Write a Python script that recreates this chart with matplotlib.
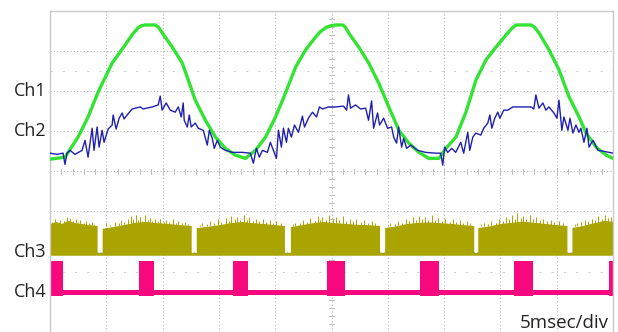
import numpy as np
import matplotlib.pyplot as plt

plt.rcParams['font.family'] = ['Open Sans', 'DejaVu Sans']

# ---------------------------------------------------------------------------
# Trace data: time in ms (5 ms/div, 10 div), level in screen divisions
# ---------------------------------------------------------------------------
ch1_t = [0.00, 1.33, 2.49, 3.38, 4.27, 5.52, 6.67, 7.30, 7.83, 8.10, 8.45, 9.34, 9.65,
         9.97, 10.86, 11.75, 12.28, 12.90, 13.80, 14.69, 15.58, 16.47, 17.36, 18.25,
         19.14, 20.03, 20.92, 21.81, 22.70, 23.59, 24.00, 24.48, 24.90, 25.37, 26.00,
         26.25, 26.53, 27.42, 28.31, 29.20, 30.09, 30.98, 31.87, 32.76, 33.65, 34.54,
         35.16, 36.05, 36.94, 37.83, 38.72, 39.61, 40.50, 41.00, 41.39, 42.72, 43.05,
         43.43, 44.32, 45.21, 46.10, 46.99, 47.61, 48.50, 49.40, 50.00]
ch1_v = [0.30, 0.35, 0.85, 1.35, 1.97, 2.69, 3.14, 3.40, 3.57, 3.62, 3.64, 3.64, 3.58,
         3.44, 3.09, 2.69, 2.27, 1.77, 1.27, 0.85, 0.57, 0.40, 0.32, 0.52,
         0.85, 1.35, 1.95, 2.59, 3.02, 3.34, 3.47, 3.57, 3.62, 3.64, 3.64,
         3.58, 3.44, 3.09, 2.69, 2.19, 1.60, 1.02, 0.70, 0.47, 0.32, 0.32,
         0.57, 0.85, 1.47, 2.27, 2.77, 3.09, 3.39, 3.55, 3.64, 3.64, 3.58,
         3.44, 3.02, 2.52, 1.85, 1.35, 0.95, 0.60, 0.40, 0.32]

ch2_t = [0.00, 0.60, 1.16, 1.33, 1.51, 1.78, 2.22, 2.85, 3.11, 3.38, 3.74, 3.91, 4.18,
         4.36, 4.63, 4.80, 5.16, 5.52, 5.61, 5.87, 6.14, 6.41, 6.58, 6.85, 7.30, 8.01,
         8.27, 9.07, 9.61, 9.79, 9.96, 10.32, 10.68, 11.12, 11.39, 11.66, 11.83, 11.92,
         12.19, 12.37, 12.54, 12.90, 13.17, 13.61, 13.97, 14.15, 14.41, 14.59, 14.86,
         15.12, 15.57, 16.19, 17.08, 17.79, 18.06, 18.33, 18.59, 18.86, 19.31, 19.57,
         19.84, 20.11, 20.29, 20.55, 20.73, 21.00, 21.17, 21.44, 21.71, 22.06, 22.42,
         22.60, 22.95, 23.31, 23.67, 23.93, 24.20, 24.73, 25.36, 26.07, 26.34, 26.51,
         26.69, 27.14, 27.58, 28.03, 28.29, 28.56, 28.74, 29.09, 29.27, 29.63, 29.98,
         30.34, 30.52, 30.78, 30.96, 31.23, 31.41, 31.67, 32.03, 32.65, 33.36, 34.25,
         34.70, 34.88, 35.05, 35.32, 35.68, 36.03, 36.48, 36.74, 37.10, 37.28, 37.55,
         37.81, 38.26, 38.52, 38.88, 39.06, 39.24, 39.50, 39.77, 39.95, 40.30, 40.66,
         41.10, 41.99, 42.71, 42.97, 43.15, 43.42, 43.77, 44.04, 44.31, 44.75, 45.02,
         45.20, 45.46, 45.64, 46.00, 46.18, 46.44, 46.71, 46.98, 47.15, 47.42, 47.69,
         47.87, 48.22, 48.67, 49.11, 49.64, 50.00]
ch2_v = [0.45, 0.42, 0.45, 0.17, 0.45, 0.52, 0.42, 0.52, 0.77, 0.35, 1.07, 0.52, 1.10,
         0.60, 1.02, 0.72, 1.05, 1.15, 1.40, 1.05, 1.32, 1.45, 1.30, 1.40, 1.55, 1.60,
         1.55, 1.60, 1.65, 1.87, 1.52, 1.70, 1.52, 1.47, 1.60, 1.35, 1.70, 1.27,
         1.10, 1.40, 1.10, 1.20, 1.07, 1.02, 0.65, 1.02, 0.82, 0.57, 0.77,
         0.60, 0.52, 0.47, 0.47, 0.45, 0.20, 0.57, 0.35, 0.52, 0.47, 0.72,
         0.52, 0.32, 1.02, 0.60, 1.07, 0.72, 1.07, 0.85, 1.15, 0.97, 1.37,
         1.10, 1.32, 1.47, 1.35, 1.60, 1.55, 1.60, 1.60, 1.62, 1.52, 1.90,
         1.57, 1.65, 1.55, 1.57, 1.27, 1.75, 1.07, 1.45, 1.15, 1.32, 1.07,
         1.10, 0.85, 0.70, 1.10, 0.60, 0.82, 0.57, 0.65, 0.52, 0.47, 0.45,
         0.45, 0.15, 0.60, 0.47, 0.57, 0.47, 0.72, 0.45, 0.97, 0.52, 0.85,
         0.95, 0.90, 1.07, 1.20, 1.40, 1.07, 1.32, 1.47, 1.32, 1.52, 1.52,
         1.60, 1.60, 1.60, 1.55, 1.90, 1.57, 1.70, 1.52, 1.60, 1.45, 1.32,
         1.77, 1.02, 1.35, 1.02, 1.32, 0.95, 1.15, 0.97, 1.07, 0.72, 1.07,
         0.60, 0.77, 0.52, 0.50, 0.47, 0.45]

# Ch3: switching burst envelope (drops to the floor in the short gaps)
ch3_t = [0.0, 0.5, 1.0, 1.6, 2.2, 2.8, 3.4, 4.18, 4.18, 4.63, 4.63,
         5.5, 6.5, 7.5, 8.5, 9.5, 10.5, 11.5, 12.54, 12.54, 12.99, 12.99,
         14.0, 15.0, 16.0, 17.0, 18.0, 19.0, 20.0, 20.82, 20.82, 21.35, 21.35,
         22.3, 23.3, 24.3, 25.3, 26.3, 27.3, 28.3, 29.27, 29.27, 29.72, 29.72,
         30.7, 31.7, 32.7, 33.7, 34.7, 35.7, 36.7, 37.63, 37.63, 37.99, 37.99,
         39.0, 40.0, 41.0, 42.0, 43.0, 44.0, 45.0, 45.91, 45.91, 46.35, 46.35,
         47.3, 48.3, 49.2, 50.0]
ch3_top = [-1.30, -1.25, -1.30, -1.22, -1.28, -1.30, -1.33, -1.35, -2.02, -2.02, -1.42,
           -1.38, -1.33, -1.27, -1.25, -1.28, -1.30, -1.33, -1.35, -2.02, -2.02, -1.40,
           -1.37, -1.33, -1.28, -1.25, -1.28, -1.30, -1.33, -1.35, -2.02, -2.02, -1.38,
           -1.33, -1.28, -1.25, -1.28, -1.30, -1.32, -1.33, -1.35, -2.02, -2.02, -1.40,
           -1.36, -1.30, -1.27, -1.26, -1.28, -1.30, -1.33, -1.35, -2.02, -2.02, -1.40,
           -1.36, -1.30, -1.27, -1.24, -1.27, -1.30, -1.33, -1.35, -2.02, -2.02, -1.40,
           -1.35, -1.28, -1.22, -1.25]
ch3_floor = -2.09
ch3_spike_t = [0.2, 0.4, 0.7, 0.9, 1.2, 1.5, 1.8, 2.0, 2.3, 2.5, 2.7, 3.0, 3.2, 3.5, 3.7, 3.9,
               5.0, 5.3, 5.8, 6.1, 6.3, 6.6, 6.9, 7.2, 7.4, 7.6, 7.8, 8.0, 8.2, 8.4, 8.7, 8.9,
               9.1, 9.3, 9.6, 9.8, 10.1, 10.3, 10.6, 10.9, 11.2, 11.4, 11.7, 12.0, 12.3,
               13.3, 13.5, 13.9, 14.2, 14.6, 14.9, 15.2, 15.6, 15.9, 16.1, 16.4, 16.6, 16.9,
               17.2, 17.5, 17.7, 18.0, 18.3, 18.6, 18.9, 19.2, 19.5, 19.8, 20.1, 20.5,
               21.6, 21.8, 22.2, 22.5, 22.8, 23.1, 23.5, 23.8, 24.0, 24.2, 24.5, 24.8, 25.1,
               25.4, 25.7, 26.0, 26.3, 26.6, 26.9, 27.2, 27.6, 27.9, 28.2, 28.6, 28.9,
               30.0, 30.2, 30.6, 30.9, 31.3, 31.6, 31.9, 32.2, 32.5, 32.8, 33.0, 33.3, 33.6,
               33.9, 34.2, 34.5, 34.8, 35.1, 35.5, 35.8, 36.1, 36.4, 36.7, 37.0, 37.3,
               38.3, 38.5, 38.9, 39.2, 39.6, 39.9, 40.2, 40.5, 40.8, 41.0, 41.3, 41.5, 41.8,
               42.0, 42.3, 42.6, 42.9, 43.2, 43.5, 43.8, 44.1, 44.5, 44.8, 45.2, 45.6,
               46.6, 46.8, 47.2, 47.5, 47.8, 48.1, 48.4, 48.7, 49.0, 49.3, 49.6, 49.8]
ch3_spike_v = [-1.26, -1.20, -1.27, -1.22, -1.25, -1.13, -1.17, -1.24, -1.20, -1.27, -1.22, -1.28, -1.25, -1.29, -1.27, -1.31,
               -1.30, -1.33, -1.27, -1.30, -1.22, -1.26, -1.18, -1.12, -1.20, -1.10, -1.22, -1.15, -1.24, -1.10, -1.21, -1.17,
               -1.25, -1.20, -1.24, -1.18, -1.26, -1.22, -1.27, -1.20, -1.28, -1.25, -1.30, -1.27, -1.31,
               -1.33, -1.30, -1.31, -1.25, -1.28, -1.20, -1.26, -1.17, -1.23, -1.12, -1.20, -1.15, -1.22,
               -1.10, -1.21, -1.15, -1.24, -1.20, -1.25, -1.18, -1.26, -1.22, -1.28, -1.25, -1.30,
               -1.32, -1.28, -1.30, -1.22, -1.27, -1.17, -1.24, -1.12, -1.21, -1.15, -1.22, -1.10, -1.20,
               -1.15, -1.22, -1.12, -1.23, -1.18, -1.25, -1.20, -1.26, -1.22, -1.28, -1.25, -1.30,
               -1.33, -1.30, -1.31, -1.25, -1.28, -1.20, -1.24, -1.15, -1.22, -1.12, -1.20, -1.15, -1.22,
               -1.10, -1.21, -1.17, -1.24, -1.20, -1.26, -1.18, -1.26, -1.22, -1.28, -1.25, -1.30,
               -1.32, -1.28, -1.31, -1.25, -1.28, -1.20, -1.23, -1.15, -1.20, -1.10, -1.18, -1.05, -1.17,
               -1.12, -1.18, -1.08, -1.20, -1.15, -1.22, -1.20, -1.25, -1.22, -1.27, -1.25, -1.30,
               -1.31, -1.28, -1.27, -1.22, -1.25, -1.18, -1.22, -1.12, -1.18, -1.10, -1.17, -1.15]

# Ch4: gate pulses
ch4_start = [0.00, 7.92, 16.28, 24.64, 32.83, 41.19, 49.64]
ch4_end = [1.16, 9.25, 17.62, 26.16, 34.52, 42.88, 50.00]
ch4_high = -2.24
ch4_low = (-3.08, -2.95)

ch_names = ['Ch1', 'Ch2', 'Ch3', 'Ch4']
ch_marks = [2.0, 1.0, -2.0, -3.0]

GREEN = '#33e333'
BLUE = '#1f1fb0'
OLIVE = '#aaa400'
PINK = '#f7087f'
GRID = '#b8b8b8'
TICK = '#c0c0c0'

fig = plt.figure(figsize=(6.18, 3.32), dpi=100)
ax = fig.add_axes([50 / 618, 0.0, 563 / 618, 321.5 / 332])
ax.set_xlim(0, 50)
ax.set_ylim(-4.0, 4.0)
ax.set_xticks([])
ax.set_yticks([])
for s in ax.spines.values():
    s.set_color('#c8c8c8')
    s.set_linewidth(1.0)
ax.spines['bottom'].set_visible(False)

# graticule
for xg in np.arange(5, 50, 5):
    ax.axvline(xg, color=GRID, lw=0.8, ls=(0, (1, 2)), zorder=0)
for yg in np.arange(-3, 4, 1):
    ax.axhline(yg, color=GRID, lw=0.8, ls=(0, (1, 2)), zorder=0)
for yr in (2.5, -2.5):
    ax.axhline(yr, color='#d0d0d0', lw=0.8, ls=(0, (2, 9)), zorder=0)
# center-line ticks
for xt in np.arange(1, 50, 1):
    ax.plot([xt, xt], [-0.06, 0.06], color=TICK, lw=0.7, zorder=0)
for yt in np.arange(-3.8, 4.0, 0.2):
    ax.plot([24.8, 25.2], [yt, yt], color=TICK, lw=0.7, zorder=0)

# Ch3
ax.fill_between(ch3_t, ch3_floor, ch3_top, color=OLIVE, lw=0, zorder=2)
ax.vlines(ch3_spike_t, -1.36, ch3_spike_v, color=OLIVE, lw=0.7, zorder=2)

# Ch4
ax.fill_between([0, 50], ch4_low[0], ch4_low[1], color=PINK, lw=0, zorder=2)
for a, b in zip(ch4_start, ch4_end):
    ax.fill_between([a, b], ch4_low[0] - 0.03, ch4_high, color=PINK, lw=0, zorder=2)

# Ch1 / Ch2
ax.plot(ch1_t, ch1_v, color=GREEN, lw=2.4, zorder=3, solid_joinstyle='round')
ax.plot(ch2_t, ch2_v, color=BLUE, lw=1.0, zorder=4)

for name, lvl in zip(ch_names, ch_marks):
    ax.text(-0.006, lvl, name, transform=ax.get_yaxis_transform(),
            ha='right', va='center', fontsize=13, color='#222222')

fig.text(609 / 618, 4 / 332, '5msec/div', ha='right', va='baseline',
         fontsize=13.5, color='#222222')

fig.savefig('out.png', dpi=100)
